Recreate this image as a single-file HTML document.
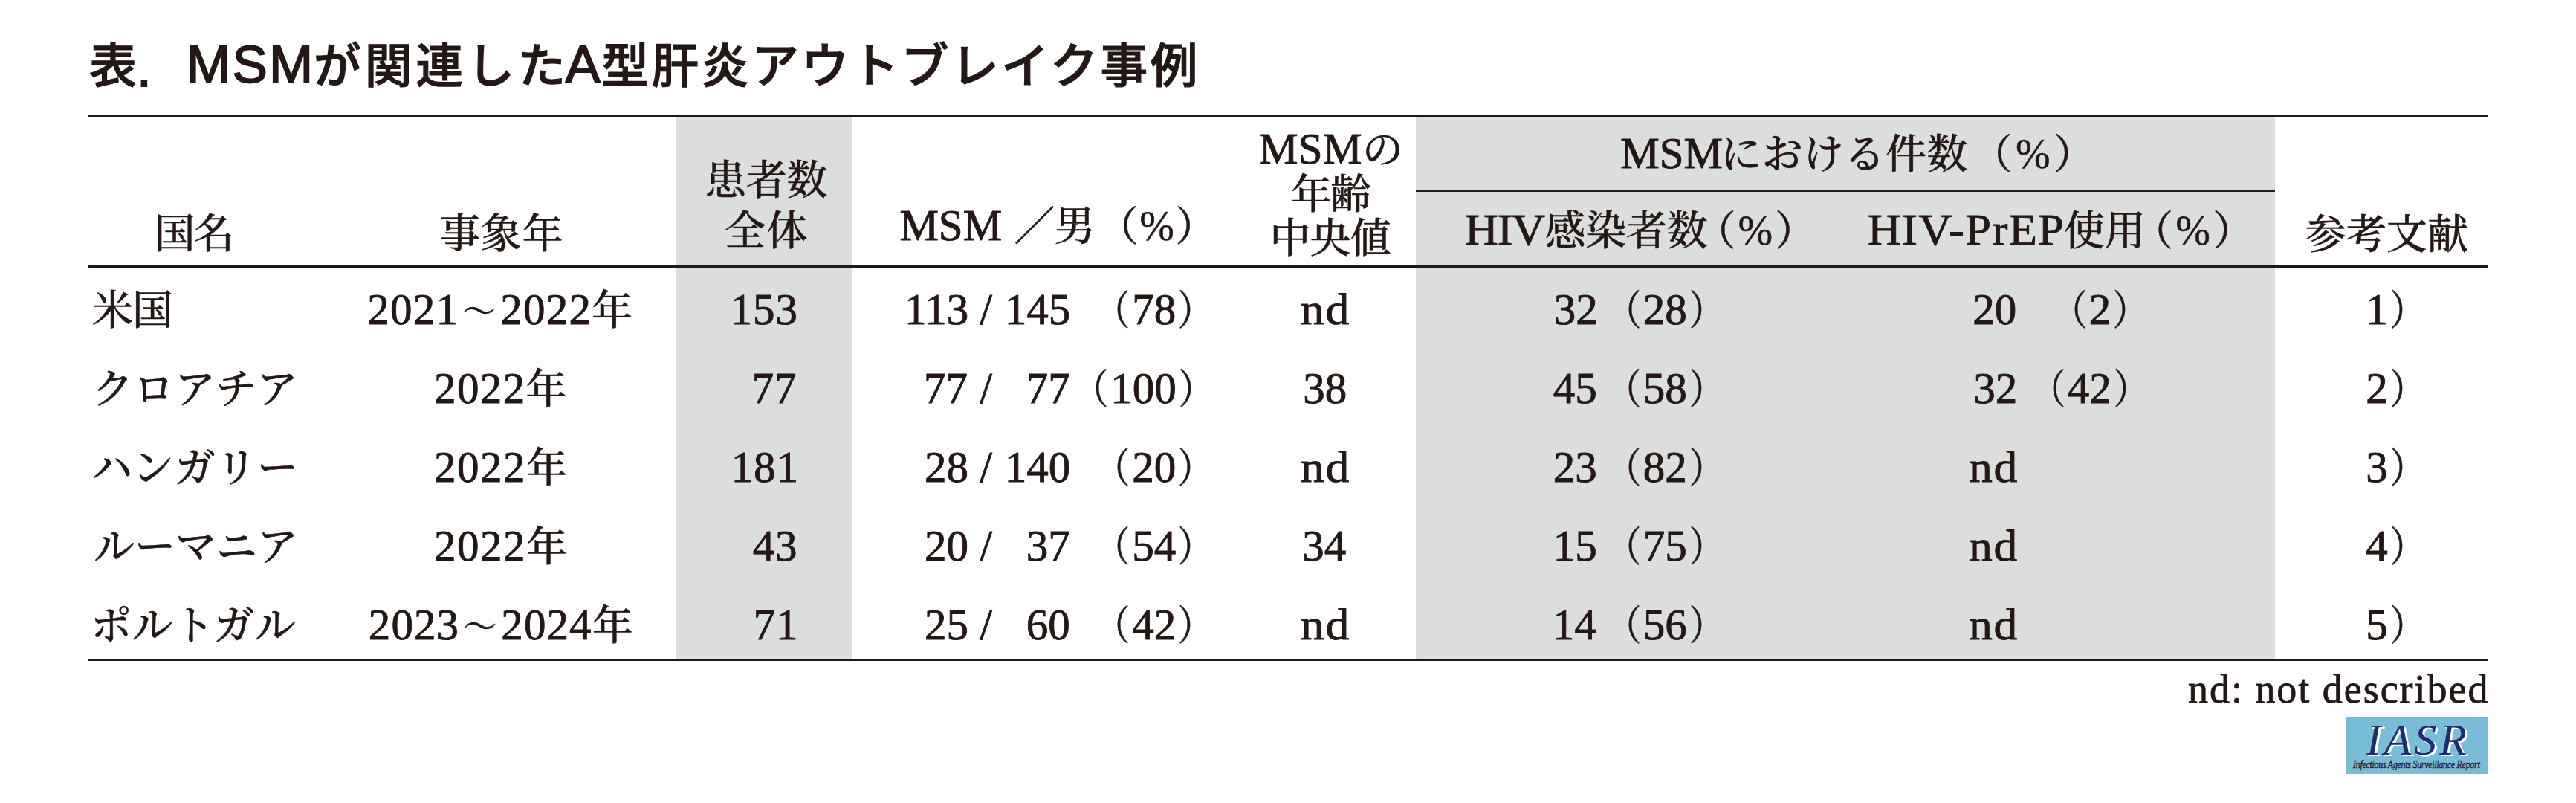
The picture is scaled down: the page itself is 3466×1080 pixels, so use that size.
<!DOCTYPE html><html lang="ja"><head><meta charset="utf-8"><title>表. MSMが関連したA型肝炎アウトブレイク事例</title><style>
html,body{margin:0;padding:0;background:#fff}
#pg{position:relative;width:3466px;height:1080px;overflow:hidden;background:#fff;color:#231815;font-family:"Liberation Serif","Noto Serif CJK JP","Noto Serif CJK SC",serif}
.g{position:absolute;background:#dcdedd}
.r{position:absolute;background:#231815}
.t{position:absolute;white-space:pre;font-size:55px;line-height:60px;height:60px;font-weight:500;-webkit-text-stroke:.5px #231815}
.t .l{font-size:59px;line-height:0;-webkit-text-stroke:.9px #231815}
.t .p{line-height:0;display:inline-block;transform:scaleX(.85)}
.t .po{margin-left:-20px;margin-right:1px;transform-origin:79% 50%}
.t .pc{margin-left:1px;transform-origin:21% 50%}
.t .pct{font-size:56px;line-height:0}
.t .td{font-size:45px;line-height:0;margin:0 5px;position:relative;top:-1px}
.nd .l{font-size:60px;display:inline-block;transform:scaleX(1.06);transform-origin:0 0}
.wd .l{display:inline-block;transform:scaleX(1.05);transform-origin:0 0}
.ft{font-size:54px;-webkit-text-stroke:.8px #231815}
.ttl{font-family:"Liberation Sans","Noto Sans CJK JP",sans-serif;font-weight:500;font-size:63.7px;line-height:70px;height:70px;-webkit-text-stroke:1.2px #231815}
.ttl .tl{font-size:71px;line-height:0;font-weight:400;-webkit-text-stroke:1.8px #231815}
.ttl .dt{position:relative;top:5px}
#logo{position:absolute;left:3156.2px;top:963.9px;width:191.8px;height:76.8px;background:#78bcd7}
.lg1{font-size:60px;font-style:italic;font-weight:400;color:#1f2d6f;-webkit-text-stroke:0;text-shadow:3px 2px 0 #fff,1.5px 1px 0 #fff,2.2px 2px 0 #fff}
.lg2{font-size:15px;font-style:italic;font-weight:400;color:#27368a;line-height:20px;height:20px;transform:scaleX(.8);transform-origin:0 0}
</style></head><body><div id="pg">
<div class="g" style="left:908.6px;top:157px;width:237.1px;height:730px"></div>
<div class="g" style="left:1905.4px;top:157px;width:1155.6px;height:730px"></div>
<div class="r" style="left:118px;top:154.9px;width:3230px;height:3px"></div>
<div class="r" style="left:118px;top:356.6px;width:3230px;height:3px"></div>
<div class="r" style="left:1905.4px;top:255.3px;width:1155.6px;height:3.2px"></div>
<div class="r" style="left:118px;top:885.8px;width:3230px;height:3px"></div>
<div id="logo"></div>
<div id="t1" class="t ttl" style="left:120.20px;top:53.85px;">表<span class="tl dt">.</span></div>
<div id="t2" class="t ttl" style="left:251.00px;top:54.30px;letter-spacing:2.25px;"><span class="tl">MSM</span></div>
<div id="t3" class="t ttl" style="left:422.00px;top:53.85px;letter-spacing:5.12px;">が関連した</div>
<div id="t4" class="t ttl" style="left:760.40px;top:54.30px;"><span class="tl">A</span></div>
<div id="t5" class="t ttl" style="left:809.20px;top:53.85px;letter-spacing:3.58px;">型肝炎アウトブレイク事例</div>
<div id="h_kuni" class="t " style="left:207.40px;top:285.15px;letter-spacing:-2.00px;">国名</div>
<div id="h_nen" class="t " style="left:591.00px;top:285.25px;letter-spacing:0.75px;">事象年</div>
<div id="h_kan1" class="t " style="left:949.00px;top:213.20px;letter-spacing:-0.25px;">患者数</div>
<div id="h_kan2" class="t " style="left:975.00px;top:280.85px;letter-spacing:1.50px;">全体</div>
<div id="h_msm_a" class="t " style="left:1210.40px;top:275.30px;"><span class="l">MSM</span></div>
<div id="h_msm_b" class="t " style="left:1364.40px;top:275.30px;letter-spacing:-1.00px;">／男</div>
<div id="h_msm_c" class="t " style="left:1476.40px;top:275.30px;letter-spacing:1.75px;">（<span class="pct">%</span>）</div>
<div id="h_age1a" class="t " style="left:1694.00px;top:171.80px;letter-spacing:0.40px;"><span class="l">MSM</span></div>
<div id="h_age1b" class="t " style="left:1833.00px;top:171.80px;">の</div>
<div id="h_age2" class="t " style="left:1737.00px;top:231.95px;letter-spacing:-2.00px;">年齢</div>
<div id="h_age3" class="t " style="left:1708.60px;top:290.75px;letter-spacing:-1.00px;">中央値</div>
<div id="h_grp_a" class="t " style="left:2180.20px;top:177.50px;letter-spacing:0.05px;"><span class="l">MSM</span></div>
<div id="h_grp_a2" class="t " style="left:2315.20px;top:177.50px;letter-spacing:0.46px;">における件数</div>
<div id="h_grp_b" class="t " style="left:2652.40px;top:177.50px;letter-spacing:4.50px;">（<span class="pct">%</span>）</div>
<div id="h_hiv_a" class="t wd" style="left:1970.50px;top:280.70px;letter-spacing:-0.97px;"><span class="l">HIV</span></div>
<div id="h_hiv_a2" class="t " style="left:2078.40px;top:280.70px;letter-spacing:-0.20px;">感染者数</div>
<div id="h_hiv_b" class="t " style="left:2280.60px;top:280.70px;letter-spacing:3.00px;">（<span class="pct">%</span>）</div>
<div id="h_prep_a" class="t wd" style="left:2512.80px;top:280.70px;letter-spacing:1.55px;"><span class="l">HIV-PrEP</span></div>
<div id="h_prep_a2" class="t " style="left:2777.00px;top:280.70px;letter-spacing:-0.20px;">使用</div>
<div id="h_prep_b" class="t " style="left:2869.00px;top:280.70px;letter-spacing:3.25px;">（<span class="pct">%</span>）</div>
<div id="h_ref" class="t " style="left:3101.40px;top:286.05px;letter-spacing:-0.16px;">参考文献</div>
<div id="r0_c" class="t " style="left:124.00px;top:387.90px;letter-spacing:-1.00px;">米国</div>
<div id="r0_y" class="t " style="left:494.20px;top:387.90px;letter-spacing:1.23px;"><span class="l">2021</span><span class="td">～</span><span class="l">2022</span>年</div>
<div id="r0_n" class="t " style="left:982.80px;top:387.90px;letter-spacing:0.80px;"><span class="l">153</span></div>
<div id="r0_a" class="t " style="left:1217.00px;top:387.90px;"><span class="l">113</span></div>
<div id="r0_s" class="t " style="left:1318.50px;top:387.90px;"><span class="l">/</span></div>
<div id="r0_b" class="t " style="left:1351.80px;top:387.90px;"><span class="l">145</span></div>
<div id="r0_p" class="t " style="left:1487.20px;top:387.90px;"><span class="p po">（</span><span class="l">78</span><span class="p pc">）</span></div>
<div id="r0_g" class="t nd" style="left:1750.00px;top:387.90px;letter-spacing:1.50px;"><span class="l">nd</span></div>
<div id="r0_h" class="t " style="left:2090.80px;top:387.90px;"><span class="l">32</span></div>
<div id="r0_hp" class="t " style="left:2174.80px;top:387.90px;"><span class="p po">（</span><span class="l">28</span><span class="p pc">）</span></div>
<div id="r0_pr" class="t " style="left:2654.20px;top:387.90px;"><span class="l">20</span></div>
<div id="r0_prp" class="t " style="left:2774.80px;top:387.90px;"><span class="p po">（</span><span class="l">2</span><span class="p pc">）</span></div>
<div id="r0_ref" class="t " style="left:3183.20px;top:387.90px;"><span class="l">1</span><span class="p pc">）</span></div>
<div id="r1_c" class="t " style="left:124.20px;top:493.95px;letter-spacing:0.38px;">クロアチア</div>
<div id="r1_y" class="t " style="left:584.00px;top:493.95px;letter-spacing:1.38px;"><span class="l">2022</span>年</div>
<div id="r1_n" class="t " style="left:1011.80px;top:493.95px;letter-spacing:0.80px;"><span class="l">77</span></div>
<div id="r1_a" class="t " style="left:1243.00px;top:493.95px;"><span class="l">77</span></div>
<div id="r1_s" class="t " style="left:1318.50px;top:493.95px;"><span class="l">/</span></div>
<div id="r1_b" class="t " style="left:1380.80px;top:493.95px;"><span class="l">77</span></div>
<div id="r1_p" class="t " style="left:1458.20px;top:493.95px;"><span class="p po">（</span><span class="l">100</span><span class="p pc">）</span></div>
<div id="r1_g" class="t " style="left:1753.30px;top:493.95px;"><span class="l">38</span></div>
<div id="r1_h" class="t " style="left:2089.80px;top:493.95px;"><span class="l">45</span></div>
<div id="r1_hp" class="t " style="left:2174.80px;top:493.95px;"><span class="p po">（</span><span class="l">58</span><span class="p pc">）</span></div>
<div id="r1_pr" class="t " style="left:2655.20px;top:493.95px;"><span class="l">32</span></div>
<div id="r1_prp" class="t " style="left:2745.80px;top:493.95px;"><span class="p po">（</span><span class="l">42</span><span class="p pc">）</span></div>
<div id="r1_ref" class="t " style="left:3183.20px;top:493.95px;"><span class="l">2</span><span class="p pc">）</span></div>
<div id="r2_c" class="t " style="left:123.00px;top:600.00px;letter-spacing:0.75px;">ハンガリー</div>
<div id="r2_y" class="t " style="left:584.00px;top:600.00px;letter-spacing:1.50px;"><span class="l">2022</span>年</div>
<div id="r2_n" class="t " style="left:983.80px;top:600.00px;letter-spacing:0.80px;"><span class="l">181</span></div>
<div id="r2_a" class="t " style="left:1244.00px;top:600.00px;"><span class="l">28</span></div>
<div id="r2_s" class="t " style="left:1318.50px;top:600.00px;"><span class="l">/</span></div>
<div id="r2_b" class="t " style="left:1351.80px;top:600.00px;"><span class="l">140</span></div>
<div id="r2_p" class="t " style="left:1487.20px;top:600.00px;"><span class="p po">（</span><span class="l">20</span><span class="p pc">）</span></div>
<div id="r2_g" class="t nd" style="left:1750.00px;top:600.00px;letter-spacing:1.50px;"><span class="l">nd</span></div>
<div id="r2_h" class="t " style="left:2089.80px;top:600.00px;"><span class="l">23</span></div>
<div id="r2_hp" class="t " style="left:2174.80px;top:600.00px;"><span class="p po">（</span><span class="l">82</span><span class="p pc">）</span></div>
<div id="r2_pr" class="t nd" style="left:2649.00px;top:600.00px;letter-spacing:1.50px;"><span class="l">nd</span></div>
<div id="r2_ref" class="t " style="left:3183.20px;top:600.00px;"><span class="l">3</span><span class="p pc">）</span></div>
<div id="r3_c" class="t " style="left:126.00px;top:706.05px;">ルーマニア</div>
<div id="r3_y" class="t " style="left:584.00px;top:706.05px;letter-spacing:1.50px;"><span class="l">2022</span>年</div>
<div id="r3_n" class="t " style="left:1012.80px;top:706.05px;letter-spacing:0.80px;"><span class="l">43</span></div>
<div id="r3_a" class="t " style="left:1244.00px;top:706.05px;"><span class="l">20</span></div>
<div id="r3_s" class="t " style="left:1318.50px;top:706.05px;"><span class="l">/</span></div>
<div id="r3_b" class="t " style="left:1380.80px;top:706.05px;"><span class="l">37</span></div>
<div id="r3_p" class="t " style="left:1487.20px;top:706.05px;"><span class="p po">（</span><span class="l">54</span><span class="p pc">）</span></div>
<div id="r3_g" class="t " style="left:1752.30px;top:706.05px;"><span class="l">34</span></div>
<div id="r3_h" class="t " style="left:2089.80px;top:706.05px;"><span class="l">15</span></div>
<div id="r3_hp" class="t " style="left:2174.80px;top:706.05px;"><span class="p po">（</span><span class="l">75</span><span class="p pc">）</span></div>
<div id="r3_pr" class="t nd" style="left:2649.00px;top:706.05px;letter-spacing:1.50px;"><span class="l">nd</span></div>
<div id="r3_ref" class="t " style="left:3183.20px;top:706.05px;"><span class="l">4</span><span class="p pc">）</span></div>
<div id="r4_c" class="t " style="left:122.00px;top:812.10px;letter-spacing:0.62px;">ポルトガル</div>
<div id="r4_y" class="t " style="left:495.80px;top:812.10px;letter-spacing:1.10px;"><span class="l">2023</span><span class="td">～</span><span class="l">2024</span>年</div>
<div id="r4_n" class="t " style="left:1013.80px;top:812.10px;letter-spacing:0.80px;"><span class="l">71</span></div>
<div id="r4_a" class="t " style="left:1244.00px;top:812.10px;"><span class="l">25</span></div>
<div id="r4_s" class="t " style="left:1318.50px;top:812.10px;"><span class="l">/</span></div>
<div id="r4_b" class="t " style="left:1380.80px;top:812.10px;"><span class="l">60</span></div>
<div id="r4_p" class="t " style="left:1487.20px;top:812.10px;"><span class="p po">（</span><span class="l">42</span><span class="p pc">）</span></div>
<div id="r4_g" class="t nd" style="left:1750.00px;top:812.10px;letter-spacing:1.50px;"><span class="l">nd</span></div>
<div id="r4_h" class="t " style="left:2088.80px;top:812.10px;"><span class="l">14</span></div>
<div id="r4_hp" class="t " style="left:2174.80px;top:812.10px;"><span class="p po">（</span><span class="l">56</span><span class="p pc">）</span></div>
<div id="r4_pr" class="t nd" style="left:2649.00px;top:812.10px;letter-spacing:1.50px;"><span class="l">nd</span></div>
<div id="r4_ref" class="t " style="left:3183.20px;top:812.10px;"><span class="l">5</span><span class="p pc">）</span></div>
<div id="foot" class="t ft" style="left:2944.00px;top:897.00px;letter-spacing:1.97px;">nd: not described</div>
<div id="lg1" class="t lg1" style="left:3183.80px;top:964.80px;letter-spacing:3.93px;">IASR</div>
<div id="lg2" class="t lg2" style="left:3166.40px;top:1017.80px;letter-spacing:-0.37px;">Infectious Agents Surveillance Report</div>
</div></body></html>
